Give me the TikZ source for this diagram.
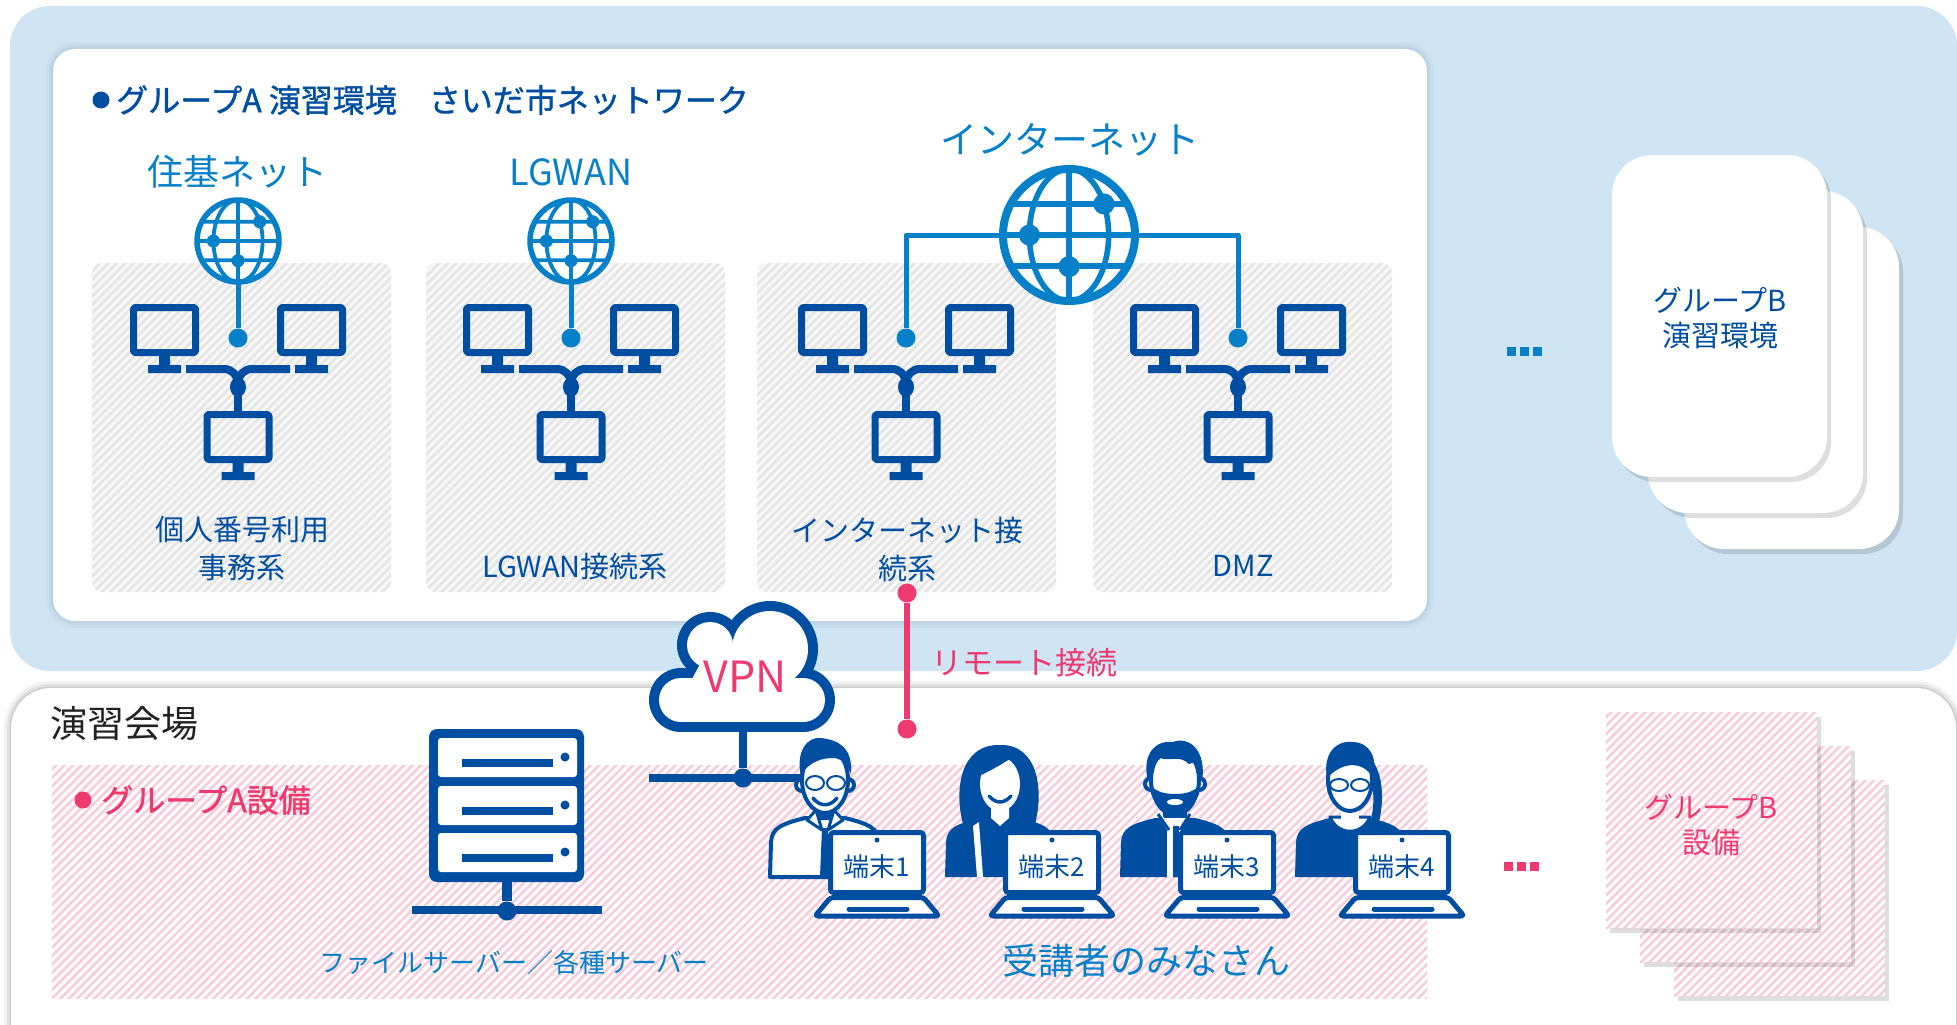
\documentclass[tikz,border=0pt]{standalone}
\usepackage{fontspec}
\setmainfont{Noto Sans CJK JP}
\newfontfamily\heading[FakeBold=1.2]{Noto Sans CJK JP}
\usetikzlibrary{patterns.meta,shadows}
\definecolor{navy}{HTML}{004EA2}
\definecolor{sky}{HTML}{0580C9}
\definecolor{pinkred}{HTML}{EE3A6E}
\definecolor{pinkhatch}{HTML}{F8CCDA}
\definecolor{panel}{HTML}{CFE5F3}
\definecolor{shade}{HTML}{5E7F98}
\definecolor{ink}{HTML}{222222}
\begin{document}
\begin{tikzpicture}[x=1pt, y=-1pt, line join=round,
  hub/.style={circle, fill=navy, minimum size=19, inner sep=0},
  bullet/.style={circle, fill=#1, minimum size=17, inner sep=0},
  softedge/.style={preaction={draw=#1, line width=14, opacity=.05},
                   preaction={draw=#1, line width=8, opacity=.07},
                   preaction={draw=#1, line width=3, opacity=.1}},
  zone/.style={rounded corners=10, fill=black!3,
               postaction={pattern={Lines[angle=45,distance=6pt,line width=2.6pt]}, pattern color=black!10}},
  pinkzone/.style={fill=white,
               postaction={pattern={Lines[angle=45,distance=6pt,line width=2.6pt]}, pattern color=pinkhatch}},
  card/.style={fill=white, rounded corners=40, drop shadow={shadow xshift=4pt, shadow yshift=-5pt, opacity=.13, fill=black}},
  pinkcard/.style={pinkzone, drop shadow={shadow xshift=4pt, shadow yshift=-5pt, opacity=.13, fill=black}},
  head/.style={font=\heading\fontsize{32}{38}\selectfont, text=navy, inner sep=0, anchor=west},
  net/.style={font=\fontsize{36}{40}\selectfont, text=sky, inner sep=0},
  zonelbl/.style={font=\fontsize{29}{38}\selectfont, text=navy, align=center, inner sep=0},
  tag/.style={font=\fontsize{26}{30}\selectfont, text=navy, inner sep=0},
  torso/.style={insert path={(-55,97) -- (-54,62) .. controls (-53,48) and (-44,44) .. (-20,38)
                -- (20,38) .. controls (44,44) and (53,48) .. (54,62) -- (55,97) -- cycle}},
  pc/.pic={
    \draw[navy, line width=7, rounded corners=2] (-31,3.5) rectangle (31,48.5);
    \fill[navy] (-5.5,52) rectangle (5.5,61) (-16.5,61) rectangle (16.5,69);
  }]
\def\W{1957} \def\H{1025} % canvas in px
\def\hy{780} % head line of the trainees
% three desktops on a bus, #1 = centre x
\def\lan#1{%
  \pic at ({#1-73.5},304) {pc}; \pic at ({#1+73.5},304) {pc}; \pic at (#1,411) {pc};
  \draw[navy, line width=8] ({#1-52},369) -- ({#1-14},369) to[out=0,in=90] (#1,383)
    to[out=90,in=180] ({#1+14},369) -- ({#1+52},369);
  \draw[navy, line width=8] (#1,383) -- (#1,411);
  \fill[navy] (#1,387) ellipse (8 and 10);}
% globe: x, y, radius, rim width, name
\def\globe#1#2#3#4#5{%
  \node[circle, minimum size={2*#3}, inner sep=0] (#5) at (#1,#2) {};
  \begin{scope}[shift={(#1,#2)}, sky]
    \fill[white] (0,0) circle (#3);
    \begin{scope}
      \clip (0,0) circle (#3);
      \draw[line width={0.7*#4}] (0,0) ellipse ({0.6*#3} and #3) (0,-#3) -- (0,#3)
        ({-#3},{-0.47*#3}) -- (#3,{-0.47*#3}) ({-#3},0) -- (#3,0) ({-#3},{0.47*#3}) -- (#3,{0.47*#3});
    \end{scope}
    \draw[line width=#4] (0,0) circle (#3);
    \fill ({0.53*#3},{-0.47*#3}) circle ({0.16*#3}) ({-0.6*#3},0) circle ({0.16*#3}) (0,{0.48*#3}) circle ({0.16*#3});
  \end{scope}}
% notebook: centre x, name, label
\def\laptop#1#2#3{%
  \draw[navy, line width=5, fill=white, rounded corners=3] ({#1-46.5},832.5) rectangle ({#1+46.5},892.5);
  \fill[navy] (#1,840) circle (2.5);
  \node[tag] (#2) at (#1,867) {#3};
  \draw[navy, line width=5, fill=white, rounded corners=3] ({#1-46.5},897.5) -- ({#1+46.5},897.5)
    -- ({#1+62},916) -- ({#1-62},916) -- cycle;
  \draw[navy, line width=5, line cap=round] ({#1-28},909) -- ({#1+30},909);}
\useasboundingbox (0,0) rectangle (\W,\H);
\clip (0,0) rectangle (\W,\H);

% panels
\fill[white, rounded corners=40, softedge=black] (11,688) rectangle (1956,1080);
\fill[panel, rounded corners=40] (10,6) rectangle (1957,671);
\fill[white, rounded corners=22, softedge=shade] (53,49) rectangle (1427,621);

\node[bullet=navy] (bulA) at (101,100) {};
\node[head] (title) at (116,100) {グループA 演習環境　さいだ市ネットワーク};

% segments
\foreach \x in {92,426,757,1093} \path[zone] (\x,263) rectangle ++(299,329);
\foreach \x in {238,571,906,1238} {\lan{\x}}

\node[hub, fill=sky] (hJ) at (238,338) {};
\node[hub, fill=sky] (hL) at (571,338) {};
\node[hub, fill=sky] (hI) at (906,338) {};
\node[hub, fill=sky] (hD) at (1238,338) {};
\globe{238}{241}{41}{5.5}{gJ}
\globe{571}{241}{41}{5.5}{gL}
\draw[sky, line width=5] (hI) |- (1069,235) -| (hD);
\globe{1069}{235}{66}{8}{gI}
\draw[sky, line width=5] (gJ) -- (hJ);
\draw[sky, line width=5] (gL) -- (hL);

\node[net] (juki) at (237,172) {住基ネット};
\node[net] (lgwan) at (571,172) {LGWAN};
\node[net, font=\fontsize{37}{40}\selectfont] (inet) at (1070,140) {インターネット};

\node[zonelbl] (seg1) at (242,549) {個人番号利用\\事務系};
\node[zonelbl] (seg2) at (575,566) {LGWAN接続系};
\node[zonelbl] (seg3) at (907,549) {インターネット接\\続系};
\node[zonelbl] (seg4) at (1243,566) {DMZ};

% other groups
\foreach \i in {0,1,2} \fill[sky] ({1507+13*\i},347) rectangle ++(9,9);
\foreach \d in {72,36,0} \path[card] ({1612+\d},{155+\d}) rectangle ++(215,322);
\node[zonelbl, font=\fontsize{29}{35}\selectfont] (grpB) at (1720,318) {グループB\\演習環境};

% venue
\node[font=\fontsize{37}{40}\selectfont, text=ink, anchor=west, inner sep=0] (venue) at (50,724) {演習会場};
\path[pinkzone] (52,765) rectangle (1427,998);
\node[bullet=pinkred] (bulB) at (83,800) {};
\node[head, text=pinkred] (grpA) at (101,800) {グループA設備};

% server
\fill[navy, rounded corners=8] (429,729) rectangle (584,882);
\foreach \y in {738,786,833} {
  \fill[white, rounded corners=3] (438,\y) rectangle (577,\y+39);
  \fill[navy] (462,\y+21) rectangle (553,\y+29);
  \fill[navy] (565,\y+19) circle (4.5);
}
\coordinate (srv) at (507,882);
\node[hub] (srvhub) at (507,911) {};
\coordinate (sbusL) at (412,910);
\coordinate (sbusR) at (602,910);
\draw[navy, line width=10] (srv) -- (srvhub);
\draw[navy, line width=8] (sbusL) -- (sbusR);
\node[font=\fontsize{26}{30}\selectfont, text=sky, inner sep=0] (srvlbl) at (514,963) {ファイルサーバー／各種サーバー};

% VPN cloud
\foreach \c/\r in {{(681,700)}/32, {(710,645)}/33, {(770,649)}/48, {(803,700)}/32} \fill[navy] \c circle (\r);
\fill[navy] (681,668) rectangle (803,732);
\foreach \c/\r in {{(681,700)}/22, {(710,645)}/23, {(770,649)}/38, {(803,700)}/22} \fill[white] \c circle (\r);
\fill[white] (681,678) rectangle (803,722);
\fill[white] (681,700) -- (710,645) -- (770,649) -- (803,700) -- cycle;
\node[font=\fontsize{43}{46}\selectfont, text=pinkred, inner sep=0] (vpn) at (745,677) {VPN};
\coordinate (cloudbase) at (743,730);
\node[hub] (vpnhub) at (743,778) {};
\coordinate (vbusL) at (649,778);
\coordinate (vbusR) at (805,778);
\draw[navy, line width=8] (cloudbase) -- (vpnhub);
\draw[navy, line width=8] (vbusL) -- (vbusR);

% remote link
\node[hub, fill=pinkred] (rmA) at (907,593) {};
\node[hub, fill=pinkred] (rmB) at (907,729) {};
\draw[pinkred, line width=6] (rmA) -- (rmB);
\node[font=\fontsize{31}{34}\selectfont, text=pinkred, anchor=west, inner sep=0] (rmlbl) at (931,663) {リモート接続};

% trainee 1
\begin{scope}[shift={(825,\hy)}]
  \draw[navy, line width=4, fill=white] [torso];
  \draw[navy, line width=4, fill=white] (-10,20) rectangle (10,36);
  \draw[navy, line width=3, fill=white] (-9,30) -- (-18,40) -- (-3,50) -- cycle (9,30) -- (18,40) -- (3,50) -- cycle;
  \fill[navy] (-3,48) -- (3,48) -- (5,97) -- (-5,97) -- cycle;
  \draw[navy, line width=4, fill=white] (-23,5) circle (6) (23,5) circle (6);
  \draw[navy, line width=4, fill=white] (0,0) ellipse (23 and 33);
  \fill[navy] (-24,-4) .. controls (-30,-30) and (-16,-44) .. (-4,-42) .. controls (12,-40) and (28,-34) .. (26,-6)
    .. controls (22,-16) and (16,-22) .. (8,-22) .. controls (0,-22) and (-16,-20) .. (-24,-4) -- cycle;
  \draw[navy, line width=2, fill=white] (-10,3) ellipse (9 and 7) (11,3) ellipse (9 and 7);
  \draw[navy, line width=3.5, line cap=round] (-12,18) .. controls (-5,27) and (5,27) .. (12,18);
\end{scope}
% trainee 2
\begin{scope}[shift={(1000,\hy)}]
  \fill[navy] (-37,44) .. controls (-46,10) and (-40,-36) .. (0,-35) .. controls (38,-36) and (44,10) .. (35,44) -- cycle;
  \fill[navy] [torso];
  \fill[white] (-27,46) -- (-21,42) -- (-17,97) -- (-23,97) -- cycle;
  \fill[white] (-9,18) -- (9,18) -- (9,38) -- (0,46) -- (-9,38) -- cycle;
  \fill[white] (0,4) ellipse (20 and 27);
  \fill[navy] (-21,-4) .. controls (-8,-10) and (6,-18) .. (17,-26) .. controls (10,-34) and (-16,-30) .. (-21,-4) -- cycle;
  \draw[navy, line width=3.5, line cap=round] (-11,16) .. controls (-4,24) and (4,24) .. (11,16);
\end{scope}
% trainee 3
\begin{scope}[shift={(1175,\hy)}]
  \fill[navy] [torso];
  \fill[white] (-17,34) -- (15,34) -- (6,50) -- (4,97) -- (-8,97) -- (-8,50) -- cycle;
  \fill[navy] (-2,46) -- (4,46) -- (6,97) -- (-2,97) -- cycle;
  \draw[navy, line width=3] (-17,34) -- (-6,50) (15,34) -- (5,50);
  \draw[navy, line width=4, fill=white] (-10,20) rectangle (10,36);
  \draw[navy, line width=4, fill=white] (-24,4) circle (6) (24,4) circle (6);
  \draw[navy, line width=4, fill=white] (0,0) ellipse (24 and 33);
  \fill[navy] (-27,2) .. controls (-34,-28) and (-18,-40) .. (-2,-38) .. controls (14,-44) and (32,-30) .. (27,2)
    .. controls (24,-14) and (18,-20) .. (14,-16) .. controls (4,-26) and (-8,-18) .. (-14,-22)
    .. controls (-22,-16) and (-24,-10) .. (-27,2) -- cycle;
  \fill[navy] (-24,6) .. controls (-22,30) and (-10,36) .. (0,36) .. controls (10,36) and (22,30) .. (24,6)
    .. controls (18,12) and (10,14) .. (0,14) .. controls (-10,14) and (-18,12) .. (-24,6) -- cycle;
  \fill[white] (0,22) ellipse (8 and 3);
\end{scope}
% trainee 4
\begin{scope}[shift={(1350,\hy)}]
  \fill[navy] [torso];
  \draw[navy, line width=3, fill=white] (-20,37) .. controls (-12,56) and (12,56) .. (20,37) -- cycle;
  \fill[white] (-9,18) rectangle (9,40);
  \fill[navy] (14,-28) .. controls (36,-12) and (34,24) .. (28,46) -- (20,44) .. controls (26,20) and (24,0) .. (14,-12) -- cycle;
  \draw[navy, line width=4, fill=white] (0,0) ellipse (22 and 31);
  \fill[navy] (-23,-2) .. controls (-28,-30) and (-10,-40) .. (2,-38) .. controls (20,-38) and (28,-22) .. (23,-2)
    .. controls (16,-16) and (-4,-22) .. (-23,-2) -- cycle;
  \draw[navy, line width=2, fill=white] (-11,5) ellipse (9 and 6) (10,5) ellipse (9 and 6);
\end{scope}
\laptop{877}{pc1}{端末1}
\laptop{1052}{pc2}{端末2}
\laptop{1227}{pc3}{端末3}
\laptop{1402}{pc4}{端末4}
\node[font=\fontsize{36}{40}\selectfont, text=sky, inner sep=0] (trainees) at (1146,961) {受講者のみなさん};

% other groups' equipment
\foreach \i in {0,1,2} \fill[pinkred] ({1504+13*\i},862) rectangle ++(9,9);
\foreach \d in {68,34,0} \path[pinkcard] ({1606+\d},{712+\d}) rectangle ++(211,216);
\node[zonelbl, font=\fontsize{29}{35}\selectfont, text=pinkred] (grpBeq) at (1711,825) {グループB\\設備};
\end{tikzpicture}
\end{document}
